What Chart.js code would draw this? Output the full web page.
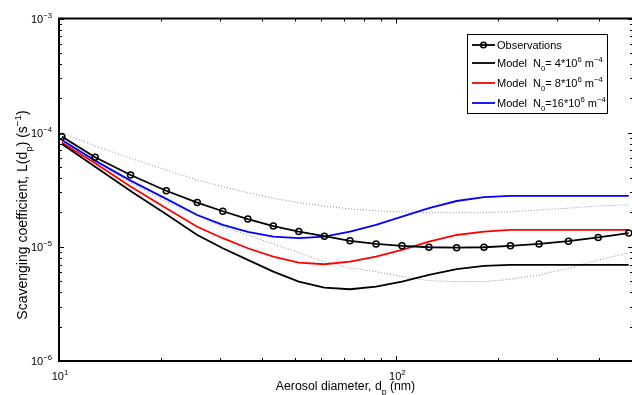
<!DOCTYPE html>
<html>
<head>
<meta charset="utf-8">
<script src="https://cdn.jsdelivr.net/npm/chart.js@4.4.1/dist/chart.umd.min.js"></script>
<style>
  html, body { margin: 0; padding: 0; background: #fff; }
  #wrap { width: 632px; height: 395px; }
</style>
</head>
<body>
<div id="wrap"><canvas id="scavChart" width="632" height="395"></canvas></div>
<script>
// aerosol diameter (nm) of each measured bin
const diameters = [10.2, 12.8, 16.3, 20.8, 25.7, 30.6, 36.3, 43.2, 51.4, 61.2, 72.9, 87.1, 104, 125, 151, 182, 218, 265, 324, 397, 489];

// scavenging coefficient (1/s)
const observed   = [9.23e-5, 6.09e-5, 4.26e-5, 3.10e-5, 2.44e-5, 2.05e-5, 1.75e-5, 1.52e-5, 1.36e-5, 1.24e-5, 1.13e-5, 1.06e-5, 1.02e-5, 9.92e-6, 9.84e-6, 9.92e-6, 1.02e-5, 1.06e-5, 1.12e-5, 1.21e-5, 1.32e-5];
const upperBound = [1.0e-4, 7.65e-5, 5.97e-5, 4.71e-5, 3.85e-5, 3.37e-5, 2.98e-5, 2.66e-5, 2.44e-5, 2.28e-5, 2.15e-5, 2.07e-5, 2.02e-5, 1.99e-5, 1.99e-5, 1.99e-5, 2.03e-5, 2.10e-5, 2.18e-5, 2.28e-5, 2.33e-5];
const lowerBound = [8.46e-5, 5.54e-5, 3.63e-5, 2.47e-5, 1.87e-5, 1.49e-5, 1.27e-5, 1.06e-5, 8.90e-6, 7.42e-6, 6.53e-6, 6.07e-6, 5.48e-6, 5.06e-6, 4.96e-6, 4.96e-6, 5.20e-6, 5.68e-6, 6.49e-6, 7.68e-6, 8.84e-6];
const modelN4  = [7.96e-5, 5.04e-5, 3.09e-5, 1.93e-5, 1.27e-5, 9.72e-6, 7.68e-6, 6.07e-6, 4.96e-6, 4.39e-6, 4.25e-6, 4.48e-6, 4.96e-6, 5.68e-6, 6.37e-6, 6.80e-6, 6.94e-6, 6.94e-6, 6.94e-6, 6.94e-6, 6.94e-6];
const modelN8  = [8.21e-5, 5.40e-5, 3.37e-5, 2.18e-5, 1.50e-5, 1.19e-5, 9.72e-6, 8.21e-6, 7.27e-6, 7.04e-6, 7.42e-6, 8.21e-6, 9.39e-6, 1.11e-5, 1.27e-5, 1.36e-5, 1.41e-5, 1.41e-5, 1.41e-5, 1.41e-5, 1.41e-5];
const modelN16 = [8.63e-5, 5.69e-5, 3.80e-5, 2.63e-5, 1.90e-5, 1.555e-5, 1.35e-5, 1.23e-5, 1.19e-5, 1.23e-5, 1.36e-5, 1.555e-5, 1.84e-5, 2.18e-5, 2.52e-5, 2.72e-5, 2.79e-5, 2.79e-5, 2.79e-5, 2.79e-5, 2.79e-5];

// axis decades (exponents)
const xDecades = [1, 2];
const yDecades = [-6, -5, -4, -3];
const xMin = 10, xMax = 500;
const yMin = 1e-6, yMax = 1e-3;

const FONT = '"Liberation Sans", Arial, Helvetica, sans-serif';

function toPoints(ys) {
  return diameters.map((d, i) => ({ x: d, y: ys[i] }));
}

// draws text made of plain / superscript / subscript pieces, returns width
function rich(ctx, parts, x, y, size, measureOnly) {
  let cx = x;
  parts.forEach(p => {
    const mode = p[1];
    const s = mode ? size * 0.7 : size;
    ctx.font = s + 'px ' + FONT;
    let dy = 0;
    if (mode === 'sup') dy = -size * 0.42;
    if (mode === 'sub') dy = size * 0.38;
    if (!measureOnly) ctx.fillText(p[0], cx, y + dy);
    cx += ctx.measureText(p[0]).width;
  });
  return cx - x;
}

const axesPlugin = {
  id: 'matlabAxes',
  afterDatasetsDraw(chart) {
    const ctx = chart.ctx;
    const xs = chart.scales.x, ys = chart.scales.y;
    const a = chart.chartArea;
    const right = xs.getPixelForValue(xMax);
    ctx.save();
    ctx.fillStyle = '#000';
    ctx.strokeStyle = '#000';
    ctx.textAlign = 'left';
    ctx.textBaseline = 'alphabetic';

    // inward ticks on all four sides
    ctx.lineWidth = 1;
    ctx.beginPath();
    for (let e = -6; e < -2; e++) {
      for (let m = 1; m <= 9; m++) {
        const v = m * Math.pow(10, e);
        if (v > yMax * 1.0001) break;
        const py = Math.round(ys.getPixelForValue(v)) + 0.5;
        const len = m === 1 ? 5 : 3;
        ctx.moveTo(a.left, py); ctx.lineTo(a.left + len, py);
        ctx.moveTo(right + 1, py); ctx.lineTo(right + 1 - len, py);
      }
    }
    for (let e = 1; e < 3; e++) {
      for (let m = 1; m <= 9; m++) {
        const v = m * Math.pow(10, e);
        if (v > xMax) break;
        const px = Math.round(xs.getPixelForValue(v)) + 0.5;
        const len = m === 1 ? 5 : 3;
        ctx.moveTo(px, a.bottom); ctx.lineTo(px, a.bottom - len);
        ctx.moveTo(px, a.top); ctx.lineTo(px, a.top + len);
      }
    }
    ctx.stroke();

    // axes box: the right edge of the box falls just outside the canvas
    ctx.lineWidth = 2;
    ctx.beginPath();
    ctx.moveTo(right + 2, a.top);
    ctx.lineTo(a.left, a.top);
    ctx.lineTo(a.left, a.bottom);
    ctx.lineTo(right + 2, a.bottom);
    ctx.stroke();

    // tick labels
    const ts = 11;
    yDecades.forEach(e => {
      const py = ys.getPixelForValue(Math.pow(10, e));
      const parts = [['10'], ['\u2212' + Math.abs(e), 'sup']];
      const w = rich(ctx, parts, 0, 0, ts, true);
      rich(ctx, parts, a.left - 7 - w, py + 4, ts);
    });
    xDecades.forEach(e => {
      const px = xs.getPixelForValue(Math.pow(10, e));
      const parts = [['10'], [String(e), 'sup']];
      const w = rich(ctx, parts, 0, 0, ts, true);
      rich(ctx, parts, px - w / 2 + 1, a.bottom + 19, ts);
    });

    // axis titles
    const xt = [['Aerosol diameter, d'], ['p', 'sub'], [' (nm)']];
    const xw = rich(ctx, xt, 0, 0, 12.3, true);
    rich(ctx, xt, (a.left + a.right) / 2 - xw / 2, a.bottom + 29, 12.3);

    const yt = [['Scavenging coefficient, L(d'], ['p', 'sub'], [') (s'], ['\u22121', 'sup'], [')']];
    const yfs = 14;
    const yw = rich(ctx, yt, 0, 0, yfs, true);
    ctx.save();
    ctx.translate(27, 215);
    ctx.rotate(-Math.PI / 2);
    rich(ctx, yt, -yw / 2, 0, yfs);
    ctx.restore();

    // legend box
    const lx = 467, ly = 34, lw = 140, lh = 79;
    ctx.fillStyle = '#fff';
    ctx.fillRect(lx, ly, lw, lh);
    ctx.lineWidth = 1;
    ctx.strokeStyle = '#000';
    ctx.strokeRect(lx + 0.5, ly + 0.5, lw, lh);

    const rows = [
      { y: 45, color: '#000', marker: true, parts: [['Observations']] },
      { y: 63, color: '#000', parts: [['Model  N'], ['0', 'sub'], ['= 4*10'], ['6', 'sup'], [' m'], ['\u22124', 'sup']] },
      { y: 83, color: '#ff0000', parts: [['Model  N'], ['0', 'sub'], ['= 8*10'], ['6', 'sup'], [' m'], ['\u22124', 'sup']] },
      { y: 103, color: '#0000ff', parts: [['Model  N'], ['0', 'sub'], ['=16*10'], ['6', 'sup'], [' m'], ['\u22124', 'sup']] }
    ];
    rows.forEach(r => {
      ctx.strokeStyle = r.color;
      ctx.lineWidth = 1.8;
      ctx.beginPath();
      ctx.moveTo(472, r.y); ctx.lineTo(495, r.y);
      ctx.stroke();
      if (r.marker) {
        ctx.lineWidth = 1.5;
        ctx.strokeStyle = '#000';
        ctx.beginPath();
        ctx.arc(483.5, r.y, 2.8, 0, Math.PI * 2);
        ctx.stroke();
      }
      ctx.fillStyle = '#000';
      rich(ctx, r.parts, 497, r.y + 4, 11);
    });
    ctx.restore();
  }
};

const ctx = document.getElementById('scavChart').getContext('2d');
const scavChart = new Chart(ctx, {
  type: 'line',
  data: {
    datasets: [
      {
        label: 'Observations',
        data: toPoints(observed),
        borderColor: '#000',
        borderWidth: 1.8,
        pointRadius: 3,
        pointBorderWidth: 1.5,
        pointBorderColor: '#000',
        pointBackgroundColor: 'rgba(0,0,0,0)'
      },
      {
        label: 'Model N0=4',
        data: toPoints(modelN4),
        borderColor: '#000',
        borderWidth: 1.8,
        pointRadius: 0
      },
      {
        label: 'Model N0=8',
        data: toPoints(modelN8),
        borderColor: '#ff0000',
        borderWidth: 1.8,
        pointRadius: 0
      },
      {
        label: 'Model N0=16',
        data: toPoints(modelN16),
        borderColor: '#0000ff',
        borderWidth: 1.8,
        pointRadius: 0
      },
      {
        label: 'upper',
        data: toPoints(upperBound),
        borderColor: '#8c8c8c',
        borderWidth: 1,
        borderDash: [1, 2],
        pointRadius: 0
      },
      {
        label: 'lower',
        data: toPoints(lowerBound),
        borderColor: '#8c8c8c',
        borderWidth: 1,
        borderDash: [1, 2],
        pointRadius: 0
      }
    ]
  },
  options: {
    responsive: false,
    animation: false,
    devicePixelRatio: 1,
    layout: { autoPadding: false, padding: { left: 59, top: 18.5, right: 0, bottom: 34 } },
    elements: { line: { tension: 0, fill: false } },
    plugins: { legend: { display: false }, tooltip: { enabled: false } },
    scales: {
      x: { type: 'logarithmic', min: xMin, max: xMax, display: false },
      y: { type: 'logarithmic', min: yMin, max: yMax, display: false }
    }
  },
  plugins: [axesPlugin]
});
</script>
</body>
</html>
